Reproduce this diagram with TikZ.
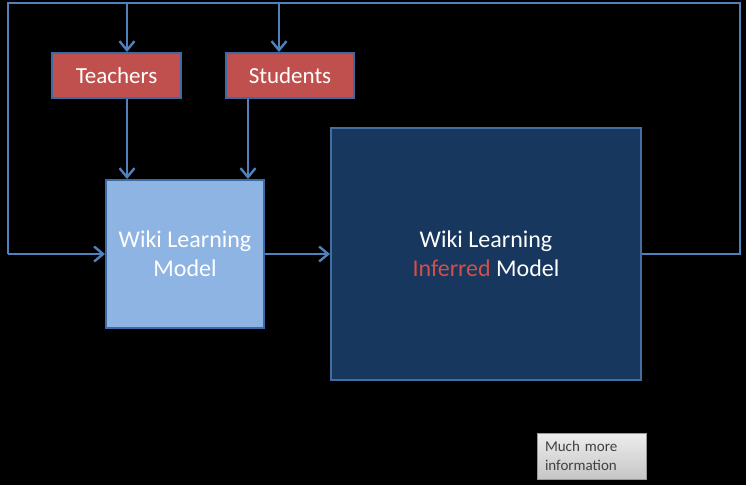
\documentclass[tikz,border=0pt]{standalone}
\usepackage{fontspec}
\setmainfont{Carlito}
\usetikzlibrary{arrows.meta}
\definecolor{arrblue}{HTML}{4F81BD}
\definecolor{bordblue}{HTML}{3C6AA5}
\definecolor{redfill}{HTML}{C0504D}
\definecolor{lightfill}{HTML}{8EB4E3}
\definecolor{darkfill}{HTML}{17375E}
\definecolor{infred}{HTML}{D0504B}
\definecolor{greytop}{HTML}{EDEDED}
\definecolor{greybot}{HTML}{C6C6C6}
\tikzset{
  arr/.style={draw=arrblue, line width=2.4pt, -{Straight Barb[length=9pt,width=15pt,line width=2.4pt]}},
  conn/.style={draw=arrblue, line width=2.4pt},
  redbox/.style={rectangle, fill=redfill, draw=bordblue, line width=2pt, text=white, font=\fontsize{23}{28}\selectfont, inner sep=0pt},
  lightbox/.style={rectangle, fill=lightfill, draw=bordblue, line width=2pt, text=white, align=center, font=\fontsize{24}{29}\selectfont, inner sep=0pt},
  darkbox/.style={rectangle, fill=darkfill, draw=arrblue!85!black, line width=2pt, text=white, align=center, font=\fontsize{24}{29}\selectfont, inner sep=0pt},
  infobox/.style={rectangle, top color=greytop, bottom color=greybot, draw=gray!80, line width=0.8pt, text=black!75, align=left, font=\fontsize{15}{19.5}\selectfont, inner sep=0pt, text width=93pt}
}
\begin{document}
\begin{tikzpicture}[x=1pt,y=-1pt]
\fill[black] (0,0) rectangle (746,485);
\useasboundingbox (0,0) rectangle (746,485);

\node[redbox, minimum width=129pt, minimum height=45pt] (teach) at (116.5,75.5) {Teachers};
\node[redbox, minimum width=128pt, minimum height=45pt] (stud) at (290,75.5) {Students};
\node[lightbox, minimum width=158pt, minimum height=148pt] (wlm) at (185,254) {Wiki Learning\\Model};
\node[darkbox, minimum width=310pt, minimum height=252pt] (inf) at (486,254) {Wiki Learning\\{\color{infred}Inferred} Model};
\node[infobox, minimum width=109pt, minimum height=46pt] (info) at (591.5,456) {Much more\\information};

\coordinate (tr) at (740,3);
\coordinate (tl) at (8,3);
\coordinate (tt) at (127,3);
\coordinate (ts) at (279,3);

% feedback loop
\draw[conn] (inf.east) -- (inf.east -| tr) -- (tr) -- (tl) -- (tl |- wlm.west);
\draw[arr] (tl |- wlm.west) -- (wlm.west);

% top inputs
\draw[arr] (tt) -- (tt |- teach.north);
\draw[arr] (ts) -- (ts |- stud.north);

% into model
\draw[arr] (teach.south -| tt) -- (wlm.north -| tt);
\coordinate (sx) at (248,0);
\draw[arr] (stud.south -| sx) -- (wlm.north -| sx);

% model to inferred
\draw[arr] (wlm.east) -- (inf.west);
\end{tikzpicture}
\end{document}
